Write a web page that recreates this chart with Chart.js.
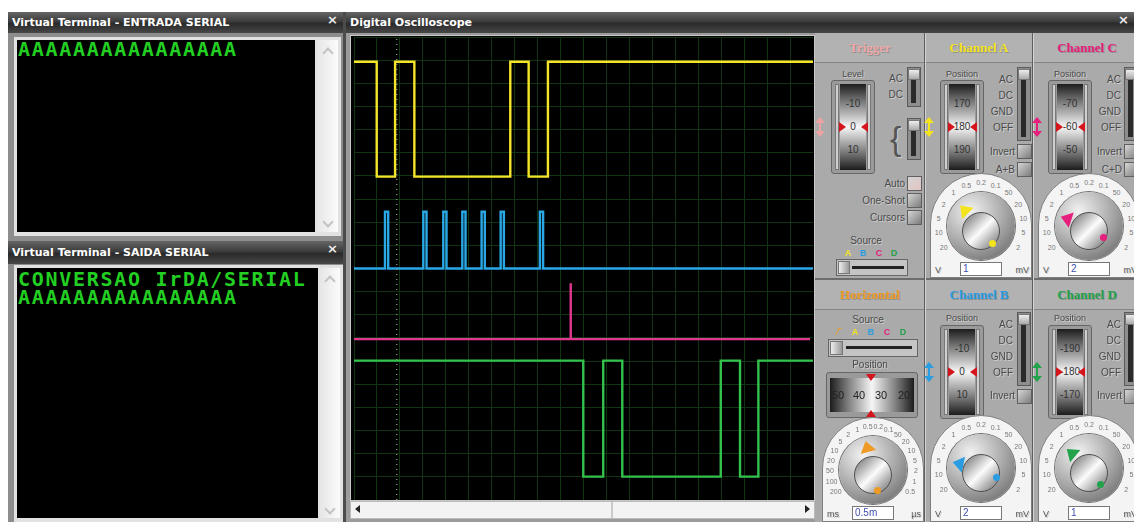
<!DOCTYPE html>
<html>
<head>
<meta charset="utf-8">
<title>Digital Oscilloscope - IrDA</title>
<script src="https://cdn.jsdelivr.net/npm/chart.js@4.4.0/dist/chart.umd.min.js"></script>
<style>
  body { margin:0; width:1134px; height:522px; background:#fff; position:relative; overflow:hidden; font-family:"Liberation Sans", Arial, sans-serif; }
  .titlebar { position:absolute; height:21px; background:linear-gradient(#666,#3c3c3c 45%,#2a2a2a 55%,#474747); color:#fff; font:bold 11px "DejaVu Sans", sans-serif; line-height:21px; padding-left:4px; box-sizing:border-box; white-space:nowrap; }
  .close { position:absolute; right:5px; top:0; font:bold 13px "DejaVu Sans", sans-serif; color:#eee; }
  .term { position:absolute; background:#000; color:#22cf22; font:bold 20px "DejaVu Sans Mono", monospace; letter-spacing:1.7px; line-height:18px; white-space:pre; box-sizing:border-box; padding-left:1px; }
  .vscroll { position:absolute; background:linear-gradient(to right,#e6e6e6,#fbfbfb); }
  .chev { position:absolute; width:6px; height:6px; border-left:2px solid #c4c4c4; border-top:2px solid #c4c4c4; }
  .lbl { position:absolute; font:9px "Liberation Sans", Arial, sans-serif; color:#4a4a4a; text-shadow:1px 1px 0 #cdcdcd; white-space:nowrap; line-height:12px; }
  .hdr { position:absolute; font:bold 13px "Liberation Serif", serif; text-align:center; line-height:30px; width:100px; text-shadow:1px 1px 0 #8f8f8f; }
  .valbox { position:absolute; background:#fff; border:1px solid #777; box-sizing:border-box; font:10px "Liberation Sans", sans-serif; line-height:12px; color:#4050b0; padding-left:2px; }
</style>
</head>
<body>

<!-- terminal ENTRADA -->
<div style="position:absolute;left:8px;top:12px;width:335px;height:229px;background:#8d8d8d"></div>
<div class="titlebar" style="left:8px;top:12px;width:335px">Virtual Terminal - ENTRADA SERIAL<span class="close">×</span></div>
<div style="position:absolute;left:14px;top:37px;width:327px;height:199px;background:#e2e2e2"></div>
<div class="term" style="left:17px;top:40px;width:298px;height:192px">AAAAAAAAAAAAAAAA</div>
<div class="vscroll" style="left:317px;top:40px;width:21px;height:192px"></div>
<div class="chev" style="left:324px;top:49px;transform:rotate(45deg)"></div>
<div class="chev" style="left:324px;top:218px;transform:rotate(225deg)"></div>

<!-- terminal SAIDA -->
<div style="position:absolute;left:8px;top:241px;width:335px;height:281px;background:#8d8d8d"></div>
<div class="titlebar" style="left:8px;top:241px;width:335px;height:23px;line-height:23px">Virtual Terminal - SAIDA SERIAL<span class="close">×</span></div>
<div style="position:absolute;left:14px;top:265px;width:329px;height:257px;background:#e2e2e2"></div>
<div class="term" style="left:17px;top:268px;width:301px;height:250px;padding-top:2px">CONVERSAO IrDA/SERIAL
AAAAAAAAAAAAAAAA</div>
<div class="vscroll" style="left:320px;top:268px;width:20px;height:250px"></div>
<div class="chev" style="left:326px;top:277px;transform:rotate(45deg)"></div>
<div class="chev" style="left:326px;top:505px;transform:rotate(225deg)"></div>

<div style="position:absolute;left:343px;top:12px;width:4px;height:510px;background:#4c4c4c"></div>

<!-- oscilloscope -->
<div class="titlebar" style="left:346px;top:12px;width:788px">Digital Oscilloscope<span class="close">×</span></div>
<div style="position:absolute;left:346px;top:33px;width:469px;height:489px;background:#9b9b9b"></div>
<div style="position:absolute;left:350px;top:35px;width:465px;height:466px;background:#000;border:1px solid #c8c8c8;box-sizing:border-box"></div>
<div style="position:absolute;left:354px;top:37px;width:459px;height:463px">
  <canvas id="scope" width="459" height="463"></canvas>
</div>
<div style="position:absolute;left:350px;top:501px;width:465px;height:18px;background:#f3f3f3;border:1px solid #bbb;box-sizing:border-box"></div>
<div style="position:absolute;left:611px;top:502px;width:2px;height:16px;background:#c9c9c9"></div>
<div style="position:absolute;left:355px;top:505px;width:0;height:0;border-top:4px solid transparent;border-bottom:4px solid transparent;border-right:5px solid #222"></div>
<div style="position:absolute;left:805px;top:505px;width:0;height:0;border-top:4px solid transparent;border-bottom:4px solid transparent;border-left:5px solid #222"></div>

<div id="panel"></div>

<script>
// canal A - entrada serial (UART)
const chanAEdges = [0.99, 1.79, 2.63, 6.81, 7.61, 8.45];
const chanALevels = [18.93, 13.97];
// canal B - pulsos IrDA
const chanBEdges = [1.35, 1.49, 3.02, 3.16, 3.89, 4.03, 4.72, 4.86, 5.56, 5.70, 6.39, 6.53, 8.10, 8.24];
const chanBLevels = [12.45, 10.0];
// canal C - disparo
const chanCEdges = [9.43, 9.45];
const chanCLevels = [9.36, 6.95];
// canal D - saida serial
const chanDEdges = [9.99, 10.86, 11.69, 15.98, 16.82, 17.62];
const chanDLevels = [6.02, 1.01];
const cursorX = 1.86;
const divisions = [0, 20];

function stepPoints(edges, levels, startHigh, xEnd) {
  const [hi, lo] = levels;
  let level = startHigh;
  const pts = [{ x: divisions[0], y: level ? hi : lo }];
  edges.forEach(e => {
    pts.push({ x: e, y: level ? hi : lo });
    level = !level;
    pts.push({ x: e, y: level ? hi : lo });
  });
  pts.push({ x: xEnd, y: level ? hi : lo });
  return pts;
}

const gridCfg = {
  type: 'linear', min: divisions[0], max: divisions[1],
  ticks: { display: false, stepSize: 1 },
  grid: { color: '#103412', lineWidth: 1, drawTicks: false },
  border: { display: false }
};

new Chart(document.getElementById('scope'), {
  type: 'line',
  data: {
    datasets: [
      { data: [{ x: cursorX, y: 0 }, { x: cursorX, y: 20 }], borderColor: '#7d8f7d', borderWidth: 1.5, borderDash: [1, 4] },
      { data: stepPoints(chanAEdges, chanALevels, true, 20), borderColor: '#f4e42a', borderWidth: 2.4 },
      { data: stepPoints(chanBEdges, chanBLevels, false, 20), borderColor: '#2aa8e6', borderWidth: 2.4 },
      { data: stepPoints(chanCEdges, chanCLevels, false, 19.87), borderColor: '#e2378f', borderWidth: 2.4 },
      { data: stepPoints(chanDEdges, chanDLevels, true, 20), borderColor: '#33c24c', borderWidth: 2.4 }
    ]
  },
  options: {
    responsive: false,
    animation: false,
    devicePixelRatio: 1,
    parsing: false,
    elements: { point: { radius: 0 }, line: { tension: 0 } },
    plugins: { legend: { display: false }, tooltip: { enabled: false } },
    layout: { padding: 0 },
    scales: { x: gridCfg, y: gridCfg }
  }
});

// ---- painel de controle (decoracao) ----
const P = [];
function el(x, y, w, h, css, html = '') {
  P.push(`<div style="position:absolute;left:${x}px;top:${y}px;width:${w}px;height:${h}px;${css}">${html}</div>`);
}
function label(x, y, s, align = 'left', css = '') {
  const w = 60;
  const left = align === 'center' ? x - w / 2 : align === 'right' ? x - w : x;
  P.push(`<div class="lbl" style="left:${left}px;top:${y - 6}px;width:${w}px;text-align:${align};${css}">${s}</div>`);
}
function tri(cx, cy, dir, s, color, rot = 0) {
  const h = Math.round(s * 0.75);
  let css, w, ht;
  if (dir === 'right' || dir === 'left') {
    w = s; ht = 2 * h;
    css = `border-top:${h}px solid transparent;border-bottom:${h}px solid transparent;border-${dir === 'right' ? 'left' : 'right'}:${s}px solid ${color};`;
  } else {
    w = 2 * h; ht = s;
    css = `border-left:${h}px solid transparent;border-right:${h}px solid transparent;border-${dir === 'down' ? 'top' : 'bottom'}:${s}px solid ${color};`;
  }
  P.push(`<div style="position:absolute;left:${cx - w / 2}px;top:${cy - ht / 2}px;width:0;height:0;${css}transform:rotate(${rot}deg)"></div>`);
}
function header(cx, y, s, color) {
  P.push(`<div class="hdr" style="left:${cx - 50}px;top:${y}px;color:${color}">${s}</div>`);
}
function vslider(x, y, nums, arrowColor) {
  el(x, y, 44, 94, 'background:#9a9a9a;border:1px solid #666;border-radius:3px;box-sizing:border-box');
  el(x + 4, y + 4, 4, 86, 'background:#cfcfcf;border:1px solid #777;box-sizing:border-box');
  el(x + 36, y + 4, 4, 86, 'background:#cfcfcf;border:1px solid #777;box-sizing:border-box');
  el(x + 9, y + 4, 26, 86, 'background:linear-gradient(#1c1c1c,#808080 22%,#f6f6f6 50%,#808080 78%,#1c1c1c)');
  nums.forEach((n, i) => label(x + 22, y + 24 + i * 23, n, 'center', 'color:#333;text-shadow:none;font-size:10px'));
  tri(x + 11, y + 47, 'right', 7, '#d5141c');
  tri(x + 33, y + 47, 'left', 7, '#d5141c');
  if (arrowColor) {
    tri(x - 11, y + 40, 'up', 6, arrowColor);
    el(x - 12, y + 42, 2, 10, 'background:' + arrowColor);
    tri(x - 11, y + 54, 'down', 6, arrowColor);
  }
}
function coupling(xr, y, names, swx, swy, swh) {
  names.forEach((t, i) => label(xr, y + i * 16, t, 'right', 'font-size:10px'));
  el(swx, swy, 14, swh, 'background:#8e8e8e;border:1px solid #5a5a5a;box-sizing:border-box');
  el(swx + 4, swy + 12, 5, swh - 16, 'background:#2a2a2a');
  el(swx + 1, swy + 2, 12, 11, 'background:linear-gradient(#eee,#a9a9a9);border:1px solid #777;box-sizing:border-box');
}
function btn(x, y, col = '#7c7c7c') {
  el(x, y, 15, 15, `background:linear-gradient(135deg,#d5d5d5,${col});border:1px solid #606060;box-sizing:border-box`);
}
function dial(cx, cy, bottom, color, ang, value, left, right, scale) {
  el(cx - 51, cy - 53, 102, bottom - (cy - 53), 'background:#f4f4f4;border:1px solid #7e7e7e;border-radius:51px 51px 0 0;box-sizing:border-box');
  const step = 240 / (scale.length - 1);
  scale.forEach((s, i) => {
    const th = (210 - i * step) * Math.PI / 180;
    label(cx + 43 * Math.cos(th), cy - 43 * Math.sin(th), s, 'center', 'font-size:7px;color:#777;text-shadow:none');
  });
  el(cx - 34, cy - 34, 68, 68, 'border-radius:50%;background:radial-gradient(circle at 35% 28%,#f2f2f2,#a2a2a2 55%,#5a5a5a);box-shadow:0 0 0 1px #6f6f6f');
  el(cx - 19, cy - 14, 38, 38, 'border-radius:50%;background:linear-gradient(135deg,#676767,#fcfcfc 50%,#676767);border:1px solid #505050;box-sizing:border-box');
  const a = ang * Math.PI / 180;
  tri(cx + 24 * Math.cos(a), cy - 24 * Math.sin(a), 'up', 11, color, 90 - ang);
  el(cx + 15 * Math.cos(a + Math.PI) - 3, cy - 15 * Math.sin(a + Math.PI) + 3, 7, 7, 'border-radius:50%;background:' + color);
  P.push(`<div class="valbox" style="left:${cx - 21}px;top:${bottom - 16}px;width:42px;height:14px">${value}</div>`);
  label(cx - 46, bottom - 8, left, 'left', 'font-size:9px;color:#555');
  label(cx + 48, bottom - 8, right, 'right', 'font-size:9px;color:#555');
}

const voltScale = ['20', '10', '5', '2', '1', '0.5', '0.2', '0.1', '50', '20', '10', '5', '2'];
const timeScale = ['200', '100', '50', '20', '10', '5', '2', '1', '0.5', '0.2', '0.1', '50', '20', '10', '5', '2', '1', '0.5'];
const yel = '#f4e41e', blu = '#2a9ce2', mag = '#e6207c', grn = '#22a24a', org = '#ee9a24';

// fundo do painel e divisores
el(815, 33, 319, 489, 'background:#aaaaaa');
el(815, 33, 319, 30, 'background:#b2b2b2;border-bottom:1px solid #858585;box-sizing:border-box');
el(815, 278, 319, 2, 'background:#6c6c6c');
el(815, 280, 319, 30, 'background:#b2b2b2;border-bottom:1px solid #858585;box-sizing:border-box');
el(924, 33, 1, 489, 'background:#5e5e5e');
el(925, 33, 1, 489, 'background:#d2d2d2');
el(1032, 33, 1, 489, 'background:#5e5e5e');
el(1033, 33, 1, 489, 'background:#d2d2d2');

header(870, 33, 'Trigger', '#f0a8a8');
header(979, 33, 'Channel A', yel);
header(1087, 33, 'Channel C', mag);
header(870, 280, 'Horizontal', org);
header(979, 280, 'Channel B', blu);
header(1087, 280, 'Channel D', grn);

// Trigger
label(853, 74, 'Level', 'center');
vslider(831, 80, ['-10', '0', '10'], '#eba3a3');
coupling(903, 79, ['AC', 'DC'], 907, 67, 40);
P.push('<div class="lbl" style="left:890px;top:118px;font-size:34px;line-height:40px;color:#555">{</div>');
coupling(903, 200, [], 907, 118, 42);
label(905, 184, 'Auto', 'right', 'font-size:10px');
btn(907, 176, '#e4c4c4');
label(905, 201, 'One-Shot', 'right', 'font-size:10px');
btn(907, 193);
label(905, 218, 'Cursors', 'right', 'font-size:10px');
btn(907, 210);
label(866, 241, 'Source', 'center', 'font-size:10px');
[['A', yel, 848], ['B', blu, 863], ['C', mag, 879], ['D', grn, 894]].forEach(([s, c, x]) =>
  label(x, 253, s, 'center', `font-weight:bold;color:${c};text-shadow:none`));
el(836, 259, 72, 17, 'background:#c4c4c4;border:1px solid #666;box-sizing:border-box');
el(852, 266, 52, 3, 'background:#222');
el(838, 261, 12, 13, 'background:linear-gradient(90deg,#eee,#999);border:1px solid #777;box-sizing:border-box');

// Channel A
label(962, 74, 'Position', 'center');
vslider(940, 80, ['170', '180', '190'], yel);
coupling(1013, 80, ['AC', 'DC', 'GND', 'OFF'], 1017, 67, 74);
label(1015, 152, 'Invert', 'right', 'font-size:10px');
btn(1017, 144);
label(1015, 170, 'A+B', 'right', 'font-size:10px');
btn(1017, 162);
dial(981, 226, 278, yel, 135, '1', 'V', 'mV', voltScale);

// Channel C
label(1070, 74, 'Position', 'center');
vslider(1048, 80, ['-70', '-60', '-50'], mag);
coupling(1121, 80, ['AC', 'DC', 'GND', 'OFF'], 1124, 67, 74);
label(1122, 152, 'Invert', 'right', 'font-size:10px');
btn(1124, 144);
label(1122, 170, 'C+D', 'right', 'font-size:10px');
btn(1124, 162);
dial(1089, 226, 278, mag, 162, '2', 'V', 'mV', voltScale);

// Horizontal
label(868, 320, 'Source', 'center', 'font-size:10px');
[['∕‾', org, 839], ['A', yel, 855], ['B', blu, 871], ['C', mag, 887], ['D', grn, 903]].forEach(([s, c, x]) =>
  label(x, 332, s, 'center', `font-weight:bold;color:${c};text-shadow:none`));
el(828, 339, 90, 18, 'background:#c4c4c4;border:1px solid #666;box-sizing:border-box');
el(846, 346, 66, 3, 'background:#222');
el(830, 341, 13, 14, 'background:linear-gradient(90deg,#eee,#999);border:1px solid #777;box-sizing:border-box');
label(870, 365, 'Position', 'center', 'font-size:10px');
el(826, 372, 92, 46, 'background:#9a9a9a;border:1px solid #666;border-radius:3px;box-sizing:border-box');
el(830, 378, 84, 34, 'background:linear-gradient(90deg,#1c1c1c,#808080 22%,#f6f6f6 50%,#808080 78%,#1c1c1c)');
[['50', 838], ['40', 859], ['30', 881], ['20', 904]].forEach(([s, x]) =>
  label(x, 395, s, 'center', 'font-size:11px;color:#222;text-shadow:none'));
tri(871, 377, 'down', 7, '#d5141c');
tri(871, 413, 'up', 7, '#d5141c');
dial(873, 470, 522, org, 105, '0.5m', 'ms', 'µs', timeScale);

// Channel B
label(962, 318, 'Position', 'center');
vslider(940, 325, ['-10', '0', '10'], blu);
coupling(1013, 325, ['AC', 'DC', 'GND', 'OFF'], 1017, 312, 74);
label(1015, 396, 'Invert', 'right', 'font-size:10px');
btn(1017, 389);
dial(981, 468, 522, blu, 168, '2', 'V', 'mV', voltScale);

// Channel D
label(1070, 318, 'Position', 'center');
vslider(1048, 325, ['-190', '-180', '-170'], grn);
coupling(1121, 325, ['AC', 'DC', 'GND', 'OFF'], 1124, 312, 74);
label(1122, 396, 'Invert', 'right', 'font-size:10px');
btn(1124, 389);
dial(1089, 468, 522, grn, 140, '1', 'V', 'mV', voltScale);

document.getElementById('panel').innerHTML = P.join('');
</script>
</body>
</html>
